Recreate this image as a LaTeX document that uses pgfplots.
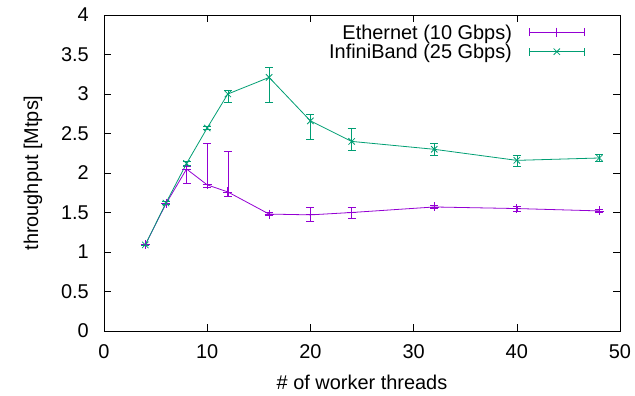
\documentclass[border=0pt]{standalone}
\usepackage{fontspec}
\setmainfont{Liberation Sans}
\usepackage{pgfplots}
\usepackage{pgfplotstable}
\pgfplotsset{compat=1.18}
\definecolor{eth}{RGB}{148,0,211}
\definecolor{ib}{RGB}{0,158,115}
\pgfplotstableread{
x y ep em
4 1.09 0.01 0.01
6 1.61 0.01 0.01
8 2.05 0.03 0.18
10 1.85 0.52 0.03
12 1.76 0.51 0.05
16 1.48 0.02 0.02
20 1.47 0.09 0.08
24 1.50 0.06 0.07
32 1.57 0.02 0.02
40 1.55 0.03 0.03
48 1.52 0.02 0.02
}\eth
\pgfplotstableread{
x y ep em
4 1.09 0.01 0.01
6 1.62 0.02 0.02
8 2.12 0.03 0.03
10 2.57 0.02 0.02
12 3.00 0.05 0.10
16 3.21 0.13 0.32
20 2.66 0.08 0.23
24 2.40 0.16 0.11
32 2.30 0.08 0.08
40 2.16 0.06 0.08
48 2.19 0.04 0.04
}\ib
\begin{document}
\begin{tikzpicture}[font=\fontsize{20}{23}\selectfont]
\path[use as bounding box] (-104bp,-65bp) rectangle (531bp,331bp);
\begin{axis}[
  scale only axis, width=516bp, height=316bp,
  xmin=0, xmax=50, ymin=0, ymax=4,
  xtick={0,10,...,50}, ytick={0,0.5,...,4},
  tick align=inside, major tick length=7bp,
  tick style={black, line width=0.6pt},
  axis line style={black, line width=0.8pt},
  /pgf/number format/assume math mode=true,
  tick label style={font=\fontsize{20}{23}\selectfont},
  xticklabel style={anchor=center, yshift=-21bp},
  yticklabel style={anchor=east, inner sep=0pt, xshift=-15bp},
  every axis x label/.style={at={(rel axis cs:0.5,0)}, yshift=-51bp, anchor=center},
  every axis y label/.style={at={(rel axis cs:0,0.5)}, xshift=-71bp, rotate=90, anchor=center},
  label style={font=\fontsize{20}{23}\selectfont},
  xlabel={\# of worker threads},
  ylabel={throughput [Mtps]},
  legend cell align=right,
  legend plot pos=right,
  legend style={draw=none, fill=none, at={(rel axis cs:0.932,0.97)}, anchor=north east,
    row sep=0.5bp, inner sep=0pt, font=\fontsize{20}{23}\selectfont,
    nodes={inner ysep=0pt, text height=14.5bp, text depth=4.5bp}},
  legend image code/.code={
    \path (0bp,0bp);
    \draw[#1, mark=none] (15bp,2bp) -- (70bp,2bp);
    \draw[#1, mark=none] (15bp,-2bp) -- (15bp,6bp) (70bp,-2bp) -- (70bp,6bp);
    \draw[#1] plot coordinates {(42.5bp,2bp)};
  },
  error bars/error mark options={rotate=90, mark size=4bp, line width=0.8pt},
]
\addplot[eth, line width=0.8pt, mark=+, mark size=4.5bp,
  error bars/.cd, y dir=both, y explicit]
  table[x=x, y=y, y error plus=ep, y error minus=em] {\eth};
\addlegendentry{Ethernet (10 Gbps)}
\addplot[ib, line width=0.8pt, mark=x, mark size=4.5bp,
  error bars/.cd, y dir=both, y explicit]
  table[x=x, y=y, y error plus=ep, y error minus=em] {\ib};
\addlegendentry{InfiniBand (25 Gbps)}
\end{axis}
\end{tikzpicture}
\end{document}
